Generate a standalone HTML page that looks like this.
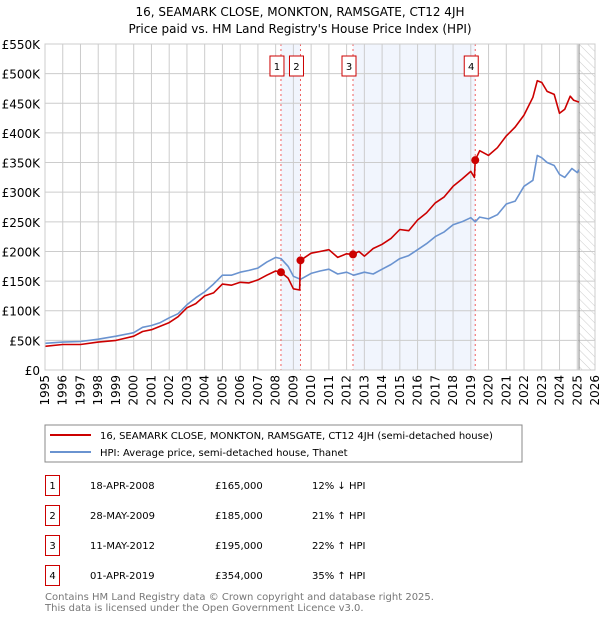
<!DOCTYPE html>
<html><head><meta charset="utf-8"><style>
body{margin:0;background:#fff;font-family:"DejaVu Sans","Liberation Sans",sans-serif;}
svg text{font-family:"DejaVu Sans","Liberation Sans",sans-serif;}
</style></head><body>
<svg id="c" width="600" height="620" xmlns="http://www.w3.org/2000/svg">
<defs><pattern id="hatch" width="6" height="6" patternUnits="userSpaceOnUse" patternTransform="rotate(-45)"><line x1="0" y1="0" x2="0" y2="6" stroke="#ccc" stroke-width="1"/></pattern></defs>
<text x="300" y="16" text-anchor="middle" font-size="12">16, SEAMARK CLOSE, MONKTON, RAMSGATE, CT12 4JH</text>
<text x="300" y="33" text-anchor="middle" font-size="12">Price paid vs. HM Land Registry's House Price Index (HPI)</text>
<g id="plot"></g>
<rect x="45" y="425" width="477" height="37" fill="#fff" stroke="#888"/>
<line x1="50" y1="435" x2="91" y2="435" stroke="#cc0000" stroke-width="2"/>
<text x="100" y="439" font-size="10">16, SEAMARK CLOSE, MONKTON, RAMSGATE, CT12 4JH (semi-detached house)</text>
<line x1="50" y1="452" x2="91" y2="452" stroke="#6a93d0" stroke-width="2"/>
<text x="100" y="456" font-size="10">HPI: Average price, semi-detached house, Thanet</text>
<g id="table" font-size="10"></g>
<text x="45" y="600" font-size="10" fill="#777">Contains HM Land Registry data © Crown copyright and database right 2025.</text>
<text x="45" y="611" font-size="10" fill="#777">This data is licensed under the Open Government Licence v3.0.</text>
</svg>
<script>
const hpiYears=[1995,1996,1997,1998,1999,2000,2000.5,2001,2001.5,2002,2002.5,2003,2003.5,2004,2004.5,2005,2005.5,2006,2006.5,2007,2007.5,2008,2008.3,2008.7,2009,2009.4,2010,2010.5,2011,2011.5,2012,2012.4,2013,2013.5,2014,2014.5,2015,2015.5,2016,2016.5,2017,2017.5,2018,2018.5,2019,2019.25,2019.5,2020,2020.5,2021,2021.5,2022,2022.5,2022.75,2023,2023.3,2023.7,2024,2024.3,2024.7,2025,2025.1];
const hpiValues=[45,47,48,52,57,63,72,75,80,88,95,110,122,132,145,160,160,165,168,172,182,190,188,175,158,153,163,167,170,162,165,160,165,162,170,178,188,193,203,213,225,233,245,250,257,250,258,255,262,280,285,310,320,362,358,350,345,330,325,340,333,338];
const ppYears=[1995,1996,1997,1998,1999,2000,2000.5,2001,2002,2002.5,2003,2003.5,2004,2004.5,2005,2005.5,2006,2006.5,2007,2007.5,2008,2008.3,2008.7,2009,2009.35,2009.4,2010,2010.5,2011,2011.5,2012,2012.36,2012.7,2013,2013.5,2014,2014.5,2015,2015.5,2016,2016.5,2017,2017.5,2018,2018.5,2019,2019.2,2019.25,2019.5,2020,2020.5,2021,2021.5,2022,2022.5,2022.75,2023,2023.3,2023.7,2024,2024.3,2024.6,2024.8,2025.1];
const ppValues=[40,43,43,47,50,57,65,68,80,90,105,112,125,130,145,143,148,147,152,160,167,165,155,137,135,185,197,200,203,190,196,195,200,192,205,212,222,237,235,253,265,282,292,310,322,335,325,354,370,362,375,395,410,430,460,488,485,470,465,433,440,462,455,452];
const saleYears=[2008.3,2009.4,2012.36,2019.25];
const saleValues=[165,185,195,354];
const saleDates=["18-APR-2008","28-MAY-2009","11-MAY-2012","01-APR-2019"];
const salePrices=["£165,000","£185,000","£195,000","£354,000"];
const saleHpi=["12% ↓ HPI","21% ↑ HPI","22% ↑ HPI","35% ↑ HPI"];
const yTicks=[0,50,100,150,200,250,300,350,400,450,500,550];
const yTickLabels=["£0","£50K","£100K","£150K","£200K","£250K","£300K","£350K","£400K","£450K","£500K","£550K"];

const X0=45,X1=595,Y0=370,Y1=44;
const xs=y=>X0+(y-1995)*(X1-X0)/31;
const ys=v=>Y0-v*(Y0-Y1)/550;
const NS="http://www.w3.org/2000/svg";
const plot=document.getElementById('plot');
function mk(tag,attrs,parent){const e=document.createElementNS(NS,tag);for(const k in attrs)e.setAttribute(k,attrs[k]);(parent||plot).appendChild(e);return e;}

let e;
e=mk('rect',{x:xs(saleYears[0]),y:Y1,width:xs(saleYears[1])-xs(saleYears[0]),height:Y0-Y1,fill:'#eef3fc',opacity:0.8});


e=mk('rect',{x:xs(saleYears[2]),y:Y1,width:xs(saleYears[3])-xs(saleYears[2]),height:Y0-Y1,fill:'#eef3fc',opacity:0.8});


e=mk('rect',{x:xs(2025.1),y:Y1,width:X1-xs(2025.1),height:Y0-Y1,fill:'url(#hatch)'});



for(let i=0;i<yTicks.length;i++){
  e=mk('line',{x1:X0,x2:X1,y1:ys(yTicks[i]),y2:ys(yTicks[i]),stroke:'#ccc','stroke-width':1});
  
  
  e=mk('text',{x:40,y:ys(yTicks[i])+5,'text-anchor':'end','font-size':12});
  e.textContent=yTickLabels[i];
  
  
}
for(let yr=1995;yr<=2026;yr++){
  e=mk('line',{x1:xs(yr),x2:xs(yr),y1:Y1,y2:Y0,stroke:'#ccc','stroke-width':1});
  
  
  e=mk('text',{x:0,y:0,'font-size':12,'text-anchor':'end',transform:`translate(${xs(yr)+4},375) rotate(-90)`});
  e.textContent=yr;
  
  
}
e=mk('line',{x1:xs(2025.1),x2:xs(2025.1),y1:Y1,y2:Y0,stroke:'#888','stroke-width':1});



for(let i=0;i<saleYears.length;i++){
  e=mk('line',{x1:xs(saleYears[i]),x2:xs(saleYears[i]),y1:Y1,y2:Y0,stroke:'#f06060','stroke-width':1,'stroke-dasharray':'2,3'});
  
  
}
function line(xa,va,col,name){
  const d=xa.map((x,i)=>(i?'L':'M')+xs(x).toFixed(1)+','+ys(va[i]).toFixed(1)).join('');
  const p=mk('path',{d:d,fill:'none',stroke:col,'stroke-width':1.6,'stroke-linejoin':'round'});
  
  
}
line(hpiYears,hpiValues,'#6a93d0','hpi-line');
line(ppYears,ppValues,'#cc0000','price-paid-line');
for(let i=0;i<saleYears.length;i++){
  e=mk('circle',{cx:xs(saleYears[i]),cy:ys(saleValues[i]),r:4,fill:'#cc0000'});
  
  
  const bx=xs(saleYears[i])-11;
  e=mk('rect',{x:bx,y:56,width:14,height:20,fill:'#fff',stroke:'#cc0000','stroke-width':1});
  
  
  e=mk('text',{x:bx+7,y:70,'text-anchor':'middle','font-size':10});
  e.textContent=i+1;
  
  
}
e=mk('rect',{x:X0,y:Y1,width:X1-X0,height:Y0-Y1,fill:'none',stroke:'#ccc'});



const tb=document.getElementById('table');
for(let i=0;i<saleDates.length;i++){
  const y=475+i*30;
  e=mk('rect',{x:45.5,y:y+0.5,width:14,height:20,fill:'#fff',stroke:'#cc0000'},tb);
  
  
  e=mk('text',{x:52.5,y:y+14,'text-anchor':'middle'},tb);e.textContent=i+1;
  
  
  e=mk('text',{x:90,y:y+14},tb);e.textContent=saleDates[i];
  
  
  e=mk('text',{x:215,y:y+14},tb);e.textContent=salePrices[i];
  
  
  e=mk('text',{x:312,y:y+14},tb);e.textContent=saleHpi[i];
  
  
}
</script>
</body></html>
